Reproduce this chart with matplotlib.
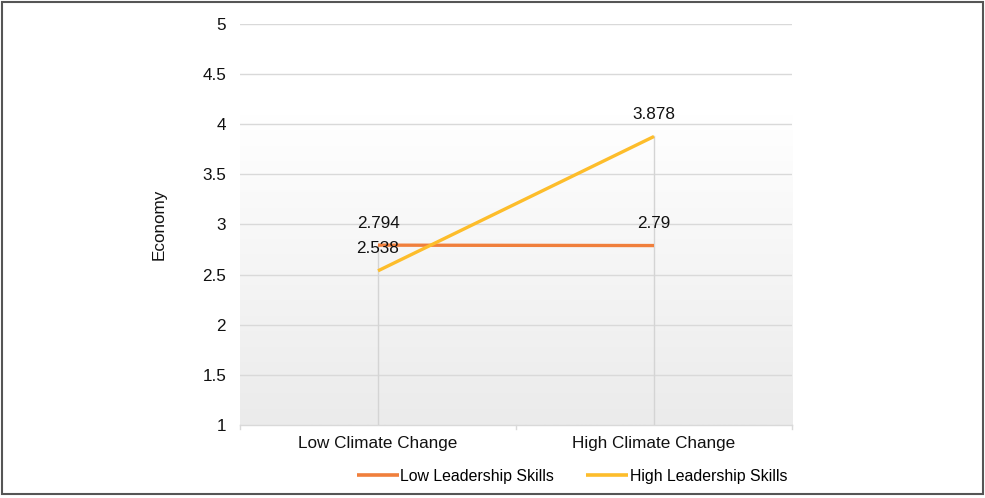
import matplotlib
matplotlib.use("Agg")
import matplotlib.pyplot as plt
import numpy as np
from matplotlib.patches import Rectangle
from matplotlib.colors import LinearSegmentedColormap

categories = ["Low Climate Change", "High Climate Change"]
series_names = ["Low Leadership Skills", "High Leadership Skills"]
low_leadership = [2.794, 2.79]
high_leadership = [2.538, 3.878]
y_ticks = [1, 1.5, 2, 2.5, 3, 3.5, 4, 4.5, 5]
y_tick_labels = ["1", "1.5", "2", "2.5", "3", "3.5", "4", "4.5", "5"]

colors = ["#F07F3C", "#FDBD2B"]
FS = 12.3

plt.rcParams["font.family"] = ["Liberation Sans", "DejaVu Sans"]

fig = plt.figure(figsize=(9.85, 4.98), dpi=100)
ax = fig.add_axes([240 / 985, 1 - 425 / 498, 552 / 985, 401 / 498])

x = np.arange(len(categories))
ax.set_xlim(-0.5, len(categories) - 0.5)
ax.set_ylim(1, 5)

# plot-area fill: white above, fading to light grey toward the bottom
cmap = LinearSegmentedColormap.from_list("fill", ["#EBEBEB", "#FFFFFF"])
grad = np.linspace(0, 1, 256).reshape(-1, 1)
ax.imshow(grad, aspect="auto", cmap=cmap, origin="lower",
          extent=[-0.5, len(categories) - 0.5, 1, 4.1], zorder=0)

# horizontal gridlines
for t in y_ticks[1:]:
    ax.axhline(t, color="#D9D9D9", lw=1.0, zorder=1)

# drop lines from the highest point of each category
series = [low_leadership, high_leadership]
for i in range(len(categories)):
    top = max(s[i] for s in series)
    ax.plot([x[i], x[i]], [1, top], color="#D4D4D4", lw=1.0, zorder=1)

for vals, name, c in zip(series, series_names, colors):
    ax.plot(x, vals, color=c, lw=2.4, label=name, zorder=3,
            solid_capstyle="butt")
    for xi, v in zip(x, vals):
        ax.annotate(f"{v:g}", (xi, v), xytext=(0, 10.5), textcoords="offset points",
                    ha="center", va="bottom", fontsize=FS, color="#111111",
                    zorder=4)

ax.set_yticks(y_ticks)
ax.set_yticklabels(y_tick_labels)
ax.set_xticks(x)
ax.set_xticklabels(categories)
ax.tick_params(axis="y", length=0, pad=10, labelsize=FS, colors="#111111")
ax.tick_params(axis="x", length=0, pad=8, labelsize=FS, colors="#111111")

# category boundary ticks on the bottom axis
for b in np.arange(-0.5, len(categories), 1.0):
    ax.plot([b, b], [1, 0.96], color="#D9D9D9", lw=1.0, clip_on=False, zorder=2)

for side in ["top", "right", "left"]:
    ax.spines[side].set_visible(False)
ax.spines["bottom"].set_color("#D9D9D9")
ax.spines["bottom"].set_linewidth(1.0)

ax.set_ylabel("Economy", fontsize=FS, color="#111111", labelpad=26)

leg = fig.legend(loc="center", bbox_to_anchor=(572 / 985, 1 - 476 / 498), ncol=2,
                 frameon=False, fontsize=11.4, handlelength=2.65, handletextpad=0.12,
                 columnspacing=2.0)
for line in leg.get_lines():
    line.set_linewidth(2.6)

# outer border
fig.patches.append(Rectangle((2 / 985, 4 / 498), 981 / 985, 492 / 498,
                             transform=fig.transFigure, fill=False,
                             edgecolor="#555555", lw=1.5))

fig.savefig("out.png", dpi=100)
